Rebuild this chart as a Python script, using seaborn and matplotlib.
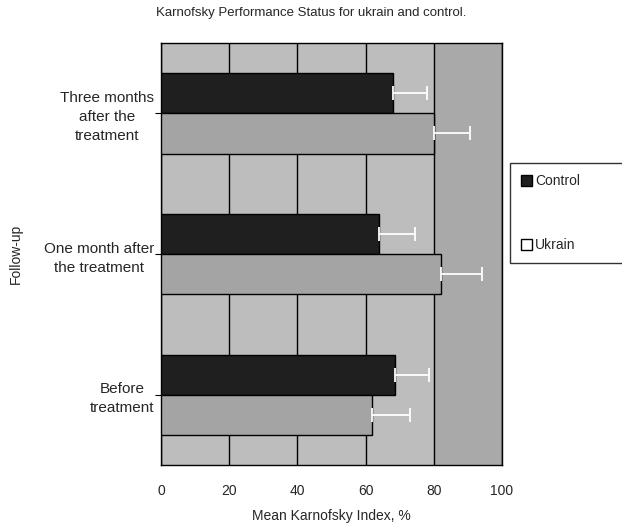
import pandas as pd
import matplotlib
matplotlib.use("Agg")
import matplotlib.pyplot as plt
import seaborn as sns
from matplotlib.patches import Patch

# values
follow_up = ["Three months\nafter the\ntreatment",
             "One month after\nthe treatment",
             "Before\ntreatment"]
control_mean = [68, 64, 68.5]
control_err = [10, 10.5, 10]
ukrain_mean = [80, 82, 62]
ukrain_err = [10.5, 12, 11]
groups = ["Control", "Ukrain"]
xticks = [0, 20, 40, 60, 80, 100]

df = pd.DataFrame({
    "Follow-up": follow_up * 2,
    "Mean": control_mean + ukrain_mean,
    "Group": ["Control"] * 3 + ["Ukrain"] * 3,
})
errs = {"Control": control_err, "Ukrain": ukrain_err}

sns.set_style("white")
plt.rcParams["font.family"] = ["Liberation Sans", "DejaVu Sans"]

fig = plt.figure(figsize=(6.22, 5.26), dpi=100)
ax = fig.add_axes([0.259, 0.116, 0.548, 0.802])
ax.set_facecolor("#bdbdbd")
ax.axvspan(80, 100, color="#a9a9a9", zorder=0)

sns.barplot(
    data=df, y="Follow-up", x="Mean", hue="Group",
    hue_order=groups, order=follow_up, orient="h",
    palette={"Control": "#1f1f1f", "Ukrain": "#a4a4a4"},
    width=0.57, errorbar=None, edgecolor="black", linewidth=1.0,
    ax=ax, zorder=3, legend=False,
)

# one-sided error bars at the bar tips
for cont, g in zip(ax.containers, groups):
    for bar, e in zip(cont, errs[g]):
        yc = bar.get_y() + bar.get_height() / 2
        ax.errorbar(bar.get_width(), yc, xerr=[[0], [e]], fmt="none",
                    ecolor="white", elinewidth=1.3, capsize=5, capthick=1.3,
                    zorder=4)

ax.set_xlim(0, 100)
ax.set_ylim(2.5, -0.5)
ax.set_xticks(xticks)
ax.grid(axis="x", color="black", linewidth=1.0, zorder=1)
ax.set_axisbelow(True)
for s in ax.spines.values():
    s.set_color("black")
    s.set_linewidth(1.0)

ax.tick_params(axis="x", length=4, pad=9.5, labelsize=10, color="black")
ax.tick_params(axis="y", length=4, pad=1, labelsize=11, left=True, color="black")
for lab in ax.get_yticklabels():
    lab.set_multialignment("center")
    lab.set_linespacing(1.45)

ax.set_xlabel("Mean Karnofsky Index, %", fontsize=10, labelpad=8)
ax.set_ylabel("Follow-up", fontsize=10, labelpad=10)
fig.text(0.5, 0.975, "Karnofsky Performance Status for ukrain and control.",
         ha="center", va="center", fontsize=9.5)
ax.yaxis.set_label_coords(-0.405, 0.5)

handles = [Patch(facecolor="#1f1f1f", edgecolor="black"),
           Patch(facecolor="white", edgecolor="black")]
fig.legend(handles, groups, loc="upper left", bbox_to_anchor=(0.82, 0.69, 0.2, 0.0),
           mode="expand", frameon=True, fontsize=10, labelspacing=3.6,
           handlelength=0.8, handleheight=0.8, handletextpad=0.2,
           borderpad=0.8, borderaxespad=0.0, fancybox=False, edgecolor="black")

plt.savefig("out.png", dpi=100)
